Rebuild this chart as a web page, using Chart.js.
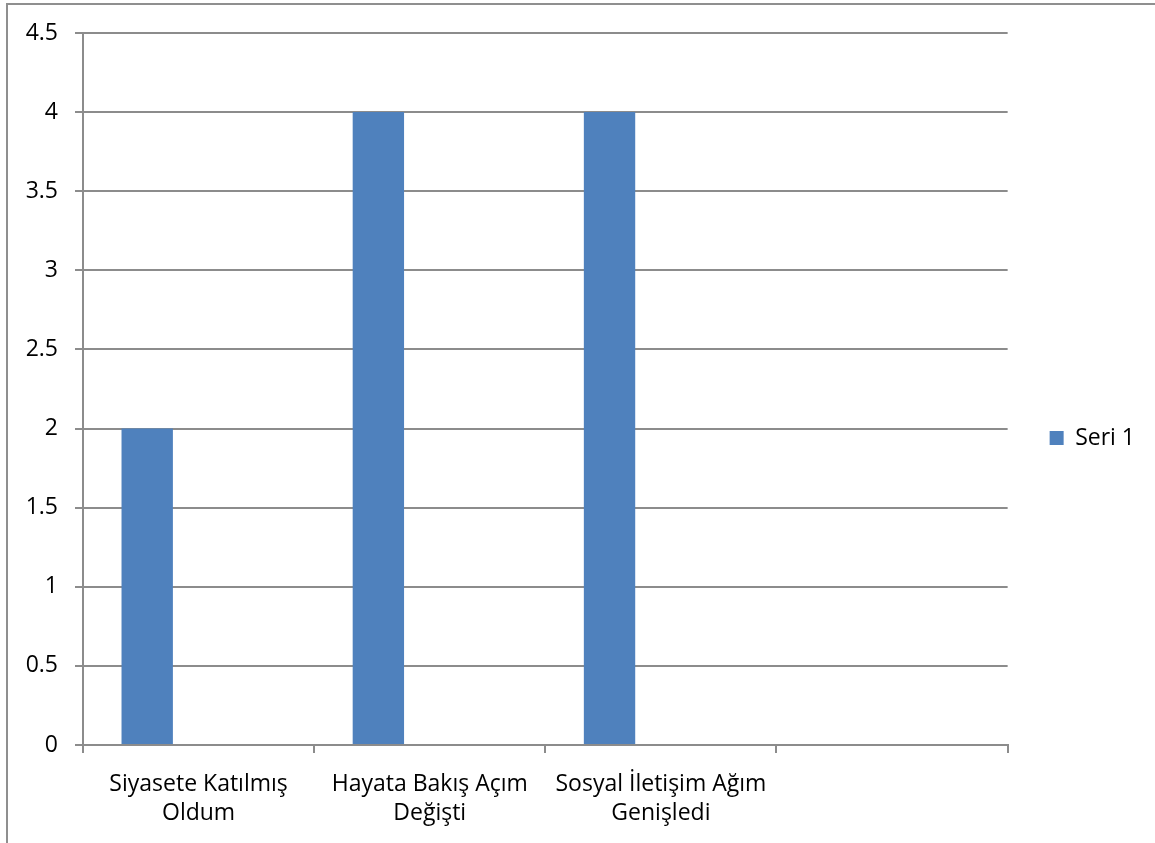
<!DOCTYPE html>
<html>
<head>
<meta charset="utf-8">
<script src="https://cdn.jsdelivr.net/npm/chart.js@4"></script>
<style>
    html, body { margin: 0; padding: 0; background: #fff; overflow: hidden; }
    #wrap { position: relative; width: 1155px; height: 843px; }
    #frame { position: absolute; left: 6px; top: 3px; width: 1300px; height: 1000px;
             border-left: 2px solid #8f8f8f; border-top: 2px solid #8f8f8f; }
    canvas { position: absolute; left: 0; top: 0; }
</style>
</head>
<body>
<div id="wrap">
    <div id="frame"></div>
    <canvas id="myChart" width="1155" height="843"></canvas>
</div>
<script>
// bar chart - seri 1

const categories = [
    ['Siyasete Katılmış', 'Oldum'],
    ['Hayata Bakış Açım', 'Değişti'],
    ['Sosyal İletişim Ağım', 'Genişledi'],
    ''
]
const seri1Values = [2, 4, 4, null]
const emptyValues = [null, null, null, null]
const yTicks = { min: 0, max: 4.5, step: 0.5 }

const gridGray = '#8c8c8c'

Chart.defaults.font.family = '"Open Sans", "Segoe UI", sans-serif'
Chart.defaults.font.size = 23
Chart.defaults.color = '#000'

const data = {
    labels: categories,
    datasets: [
        { label: 'Seri 1', data: seri1Values, backgroundColor: '#4f81bd' },
        // excel left room for two more series, keep them empty
        { label: 'Seri 2', data: emptyValues, backgroundColor: '#c0504d' },
        { label: 'Seri 3', data: emptyValues, backgroundColor: '#9bbb59' },
    ]
}

const config = {
    type: 'bar',
    data: data,
    options: {
        responsive: false,
        animation: false,
        layout: { padding: { top: 33, left: 0, right: 10, bottom: 0 } },
        datasets: {
            bar: { categoryPercentage: 3 / 4.5, barPercentage: 1 }
        },
        scales: {
            x: {
                offset: true,
                grid: {
                    offset: true,
                    drawOnChartArea: false,
                    drawTicks: true,
                    tickLength: 8,
                    color: gridGray,
                    lineWidth: 2
                },
                border: { color: gridGray, width: 2 },
                ticks: { font: { size: 23, lineHeight: 1.26 }, padding: 17, maxRotation: 0, autoSkip: false },
                afterFit: (scale) => { scale.height = 98 }
            },
            y: {
                min: yTicks.min,
                max: yTicks.max,
                ticks: {
                    stepSize: yTicks.step,
                    font: { size: 23 },
                    padding: 17,
                    callback: (value) => `${value}`
                },
                grid: { color: gridGray, lineWidth: 2, tickLength: 8 },
                border: { color: gridGray, width: 2 },
                afterFit: (scale) => { scale.width = 83 }
            }
        },
        plugins: {
            tooltip: { enabled: false },
            legend: {
                position: 'right',
                labels: {
                    filter: (item) => item.datasetIndex === 0,
                    boxWidth: 14,
                    boxHeight: 14,
                    font: { size: 23 },
                    padding: 42
                }
            }
        }
    }
}

const resultChart = new Chart(document.getElementById('myChart'), config)
</script>
</body>
</html>
